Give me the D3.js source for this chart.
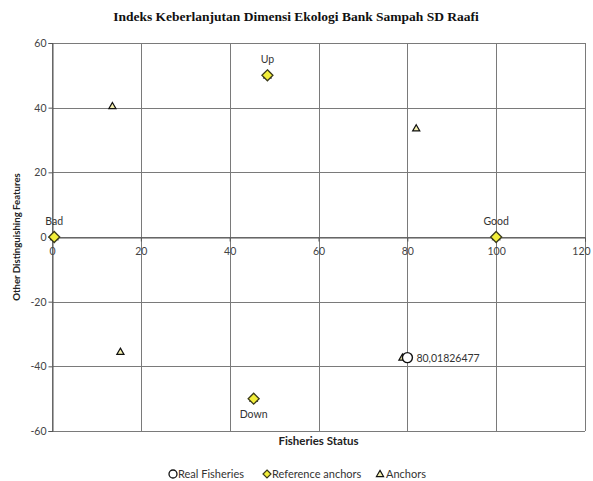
<!DOCTYPE html>
<html>
<head>
<meta charset="utf-8">
<script src="https://cdn.jsdelivr.net/npm/d3@7"></script>
<style>
  body { margin: 0; background: #fff; }
  svg { display: block; }
</style>
</head>
<body>
<svg id="chart" width="593" height="481"></svg>
<script>
// Real fisheries status point
const realX = [80.01826477];
const realY = [-37.3];
const realLabels = ["80,01826477"];

// Reference anchors (Good, Bad, Up, Down)
const refNames = ["Good", "Bad", "Up", "Down"];
const refX = [100, 0.5, 48.5, 45.4];
const refY = [0, 0, 50, -50];

// Anchor points
const anchorX = [13.6, 82, 15.4, 78.9, 100, 0.5, 48.5, 45.4];
const anchorY = [40.5, 33.6, -35.5, -37.3, 0, 0, 50, -50];

// Axis ticks
const xTicks = [0, 20, 40, 60, 80, 100, 120];
const yTicks = [-60, -40, -20, 0, 20, 40, 60];

const svg = d3.select("#chart");
const m = { left: 52, right: 585, top: 43, bottom: 431 };

const x = d3.scaleLinear().domain([0, 120]).range([m.left, m.right]);
const y = d3.scaleLinear().domain([-60, 60]).range([m.bottom, m.top]);

const tickFont = "Lato, 'Open Sans', sans-serif";

// Title
svg.append("text")
  .attr("x", 296).attr("y", 21)
  .attr("text-anchor", "middle")
  .attr("font-family", "'Liberation Serif', 'Times New Roman', serif")
  .attr("font-weight", "bold")
  .attr("font-size", 13.5)
  .attr("fill", "#111")
  .text("Indeks Keberlanjutan Dimensi Ekologi Bank Sampah SD Raafi");

// Gridlines
const grid = svg.append("g").attr("stroke", "#7a7a7a").attr("stroke-width", 1);
xTicks.forEach(t => {
  grid.append("line")
    .attr("x1", Math.round(x(t)) + 0.5).attr("x2", Math.round(x(t)) + 0.5)
    .attr("y1", m.top).attr("y2", m.bottom);
});
yTicks.forEach(t => {
  grid.append("line")
    .attr("x1", m.left).attr("x2", m.right)
    .attr("y1", Math.round(y(t)) + 0.5).attr("y2", Math.round(y(t)) + 0.5);
});

// Axes crossing at the origin
const fmt = d => String(d);
const xAxis = d3.axisBottom(x).tickValues(xTicks).tickSize(4).tickFormat(fmt);
const yAxis = d3.axisLeft(y).tickValues(yTicks).tickSize(4).tickFormat(fmt);

const gx = svg.append("g")
  .attr("transform", `translate(0,${Math.round(y(0)) + 0.5})`)
  .call(xAxis);
const gy = svg.append("g")
  .attr("transform", `translate(${Math.round(x(0)) + 0.5},0)`)
  .call(yAxis);

[gx, gy].forEach(g => {
  g.select(".domain").attr("stroke", "#555");
  g.selectAll(".tick line").attr("stroke", "#555");
  g.selectAll(".tick text")
    .attr("font-family", tickFont)
    .attr("font-size", 10.5)
    .attr("fill", "#444");
});
gx.selectAll(".tick text").attr("dy", "1em");
// keep the last label inside the frame
gx.selectAll(".tick text").filter(d => d === 120).attr("x", -4);
gy.selectAll(".tick text").attr("x", -6);

// Axis titles
svg.append("text")
  .attr("x", (m.left + m.right) / 2).attr("y", 445)
  .attr("text-anchor", "middle")
  .attr("font-family", tickFont)
  .attr("font-weight", "bold")
  .attr("font-size", 11.5)
  .attr("fill", "#222")
  .text("Fisheries Status");

svg.append("text")
  .attr("transform", `translate(20,${y(0)}) rotate(-90)`)
  .attr("text-anchor", "middle")
  .attr("font-family", tickFont)
  .attr("font-weight", "bold")
  .attr("font-size", 9.6)
  .attr("fill", "#222")
  .text("Other Distinguishing Features");

// Marker shapes
const triangle = d3.symbol().type(d3.symbolTriangle).size(22);
const diamond = "M0,-5.5L5.5,0L0,5.5L-5.5,0Z";

// Anchors
svg.append("g").selectAll("path")
  .data(anchorX.map((v, i) => [v, anchorY[i]]))
  .join("path")
  .attr("d", triangle)
  .attr("transform", d => `translate(${x(d[0])},${y(d[1]) + 0.5})`)
  .attr("fill", "#f5f0b0")
  .attr("stroke", "#111")
  .attr("stroke-width", 1.2);

// Reference anchors
svg.append("g").selectAll("path")
  .data(refX.map((v, i) => [v, refY[i]]))
  .join("path")
  .attr("d", diamond)
  .attr("transform", d => `translate(${x(d[0])},${y(d[1])})`)
  .attr("fill", "#f2ee3a")
  .attr("stroke", "#3a3a1a")
  .attr("stroke-width", 1.3);

// Reference anchor labels
svg.append("g").selectAll("text")
  .data(refNames.map((n, i) => ({ n, x: refX[i], y: refY[i] })))
  .join("text")
  .attr("x", d => x(d.x))
  .attr("y", d => d.n === "Down" ? y(d.y) + 19 : y(d.y) - 12)
  .attr("text-anchor", "middle")
  .attr("font-family", tickFont)
  .attr("font-size", 10.5)
  .attr("fill", "#333")
  .text(d => d.n);

// Real fisheries point
svg.append("g").selectAll("circle")
  .data(realX.map((v, i) => [v, realY[i]]))
  .join("circle")
  .attr("cx", d => x(d[0]))
  .attr("cy", d => y(d[1]))
  .attr("r", 5)
  .attr("fill", "#fff")
  .attr("stroke", "#111")
  .attr("stroke-width", 1.4);

svg.append("g").selectAll("text")
  .data(realX.map((v, i) => ({ x: v, y: realY[i], t: realLabels[i] })))
  .join("text")
  .attr("x", d => x(d.x) + 9)
  .attr("y", d => y(d.y) + 4)
  .attr("font-family", tickFont)
  .attr("font-size", 10.5)
  .attr("fill", "#333")
  .text(d => d.t);

// Legend
const legend = svg.append("g").attr("font-family", tickFont).attr("font-size", 11).attr("fill", "#333");
const ly = 474;
legend.append("circle").attr("cx", 173).attr("cy", ly).attr("r", 4)
  .attr("fill", "#fff").attr("stroke", "#111").attr("stroke-width", 1.3);
legend.append("text").attr("x", 178).attr("y", ly + 4).text("Real Fisheries");
legend.append("path").attr("d", "M0,-4L4,0L0,4L-4,0Z")
  .attr("transform", `translate(267,${ly})`)
  .attr("fill", "#f2ee3a").attr("stroke", "#3a3a1a").attr("stroke-width", 1.2);
legend.append("text").attr("x", 272).attr("y", ly + 4).text("Reference anchors");
legend.append("path").attr("d", triangle)
  .attr("transform", `translate(380,${ly + 0.5})`)
  .attr("fill", "#f5f0b0").attr("stroke", "#111").attr("stroke-width", 1.2);
legend.append("text").attr("x", 386).attr("y", ly + 4).text("Anchors");
</script>
</body>
</html>
